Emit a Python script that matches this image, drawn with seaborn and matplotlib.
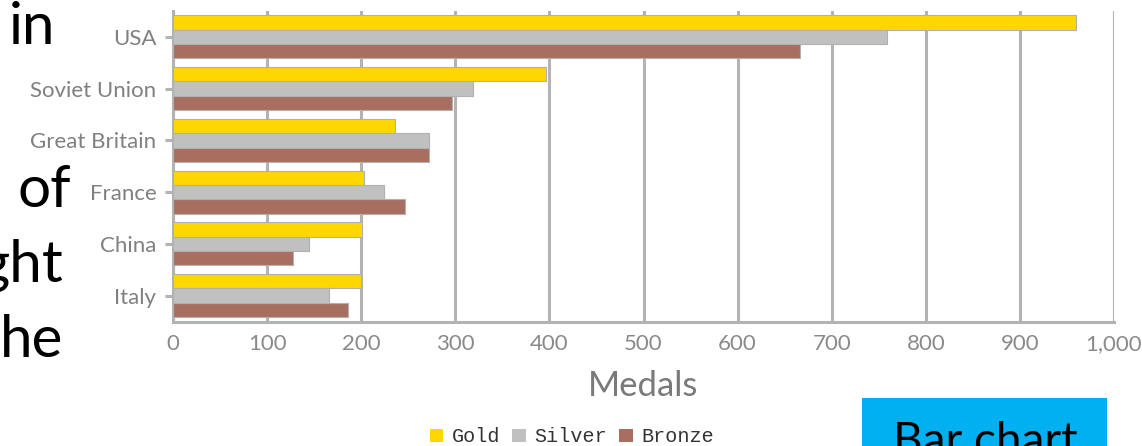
import matplotlib
matplotlib.use("Agg")
import matplotlib.pyplot as plt
import seaborn as sns
import pandas as pd
from matplotlib.patches import Patch, Rectangle
from matplotlib.ticker import FuncFormatter

countries = ["USA", "Soviet Union", "Great Britain", "France", "China", "Italy"]
gold = [960, 396, 236, 203, 201, 200]
silver = [759, 319, 272, 224, 144, 166]
bronze = [666, 297, 272, 247, 128, 186]
medal_names = ["Gold", "Silver", "Bronze"]
medal_colors = ["#FFD700", "#C0C0C0", "#A86F60"]
x_ticks = list(range(0, 1001, 100))
side_words = ["in", "of", "ght", "he"]

sns.set_theme(style="white")
plt.rcParams["font.family"] = ["Lato", "DejaVu Sans"]

rows = []
for c, g, s, b in zip(countries, gold, silver, bronze):
    rows.append({"Country": c, "Medal": "Gold", "Medals": g})
    rows.append({"Country": c, "Medal": "Silver", "Medals": s})
    rows.append({"Country": c, "Medal": "Bronze", "Medals": b})
df = pd.DataFrame(rows)

fig = plt.figure(figsize=(11.42, 4.46), dpi=100)
fig.patch.set_facecolor("white")
ax = fig.add_axes([173 / 1142, 1 - 321.5 / 446, (1114 - 173) / 1142, (321.5 - 11) / 446])

grid_c = "#b3b3b3"
sns.barplot(data=df, y="Country", x="Medals", hue="Medal", order=countries,
            hue_order=medal_names, palette=medal_colors, saturation=1, orient="h", width=0.83,
            edgecolor="#b0b0b0", linewidth=0.8, legend=False, ax=ax, zorder=3)

ax.set_xlim(0, 1000)
ax.set_xticks(x_ticks)
ax.xaxis.set_major_formatter(FuncFormatter(lambda v, p: f"{int(v):,}"))
ax.set_axisbelow(True)
ax.grid(axis="x", color=grid_c, linewidth=2.2, zorder=0)
ax.grid(axis="y", visible=False)
for s in ["top", "right"]:
    ax.spines[s].set_visible(False)
for s in ["left", "bottom"]:
    ax.spines[s].set_color(grid_c)
    ax.spines[s].set_linewidth(2.2)
ax.set_xlabel("")
ax.set_ylabel("")
ax.tick_params(axis="x", colors=grid_c, length=3, width=2, pad=6, labelsize=16, labelcolor="#8a8a8a")
ax.tick_params(axis="y", colors=grid_c, length=6, width=2.2, pad=6, labelsize=16, labelcolor="#808080", left=True)

fig.text(643 / 1142, 1 - 386 / 446, "Medals", ha="center", va="center", fontsize=25, color="#7a7a7a")

handles = [Patch(facecolor=c, edgecolor="none") for c in medal_colors]
fig.legend(handles, medal_names, loc="center", bbox_to_anchor=(572 / 1142, 1 - 437 / 446),
           ncol=3, frameon=False, handlelength=0.65, handleheight=0.65, handletextpad=0.45,
           columnspacing=0.6, prop={"family": "Liberation Mono", "size": 14.5}, labelcolor="#333333")

# slide overlay elements
fig.patches.append(Rectangle((862 / 1142, 0), (1107 - 862) / 1142, (446 - 398) / 446,
                             transform=fig.transFigure, facecolor="#00B0F0", edgecolor="none", zorder=5))
fig.text(985 / 1142, 1 - 455 / 446, "Bar chart", ha="center", va="baseline", fontsize=33,
         color="black", zorder=6)

word_pos = [(55, 44), (71, 207), (63, 282), (63, 357)]
for w, (x, y) in zip(side_words, word_pos):
    fig.text(x / 1142, 1 - y / 446, w, ha="right", va="baseline", fontsize=42, color="black")

fig.savefig("out.png", dpi=100)
